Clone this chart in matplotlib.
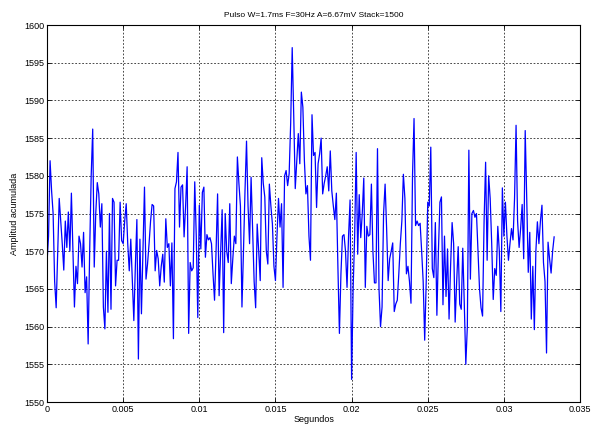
import numpy as np
import matplotlib
matplotlib.use("Agg")
import matplotlib.pyplot as plt

sample_period = 0.0001  # seconds per sample

amplitude = [
    # 0-41
    1568.5, 1572, 1582, 1578, 1575, 1566, 1562.5, 1570, 1577, 1574,
    1571, 1567.5, 1574, 1570.5, 1575.2, 1570, 1577.7, 1570, 1562.6, 1568,
    1565.7, 1572, 1571, 1567.9, 1572.5, 1564.5, 1566.6, 1557.7, 1570, 1580,
    1586.2, 1567.9, 1575, 1579.1, 1577.6, 1573.2, 1576.3, 1562.6, 1559.7, 1570,
    1561.9, 1575,
    # 42-83
    1562.3, 1577, 1576.5, 1565.4, 1568.8, 1568.8, 1576.5, 1571.4, 1571, 1574,
    1576.3, 1571, 1567.4, 1571.6, 1566, 1560.8, 1568, 1574.2, 1555.7, 1571.6,
    1561.7, 1570, 1578.5, 1566.3, 1568.3, 1571, 1574, 1576.2, 1576, 1567.4,
    1570.1, 1569, 1565.4, 1568, 1569.6, 1565.9, 1574.3, 1570.5, 1571, 1565.4,
    1571.1, 1558.4,
    # 84-125
    1578.3, 1579.2, 1583.1, 1573.2, 1578.5, 1578.8, 1571.9, 1576, 1581.2, 1559.1,
    1568.5, 1567.4, 1567.8, 1579.2, 1572, 1561.2, 1576.1, 1570.3, 1577.8, 1578.5,
    1569.2, 1572.2, 1571.5, 1571.8, 1571, 1567, 1563.5, 1570, 1577.6, 1564.1,
    1570, 1575.5, 1559.2, 1575, 1570, 1568.5, 1576.3, 1565.7, 1569, 1572,
    1571, 1582.5,
    # 126-167
    1579, 1576, 1562.6, 1570, 1578, 1584.6, 1576, 1571, 1579.8, 1573,
    1566, 1562.5, 1573.6, 1570, 1566.1, 1582.4, 1579, 1577.2, 1570, 1568.3,
    1578.9, 1576, 1573.6, 1568, 1566.1, 1572, 1577, 1573.2, 1576.3, 1565.2,
    1580, 1580.7, 1578.7, 1580.3, 1587, 1597, 1588, 1578.3, 1582, 1585.6,
    1581.6, 1591.1,
    # 168-209
    1589.1, 1582, 1577.6, 1578.7, 1572, 1568.8, 1588.1, 1582.7, 1583.1, 1575.8,
    1581.6, 1582.9, 1585, 1577.6, 1579, 1580, 1581.2, 1578, 1583.3, 1578,
    1576, 1574.2, 1577.7, 1568, 1559.1, 1567, 1572, 1572.2, 1570, 1565.2,
    1572, 1576.8, 1553.0, 1565, 1572, 1583.1, 1569.6, 1577.5, 1571.8, 1575,
    1579.7, 1565.2,
    # 210-250
    1573.3, 1572, 1572.2, 1578.9, 1570, 1565.8, 1565.8, 1583.6, 1565, 1560,
    1562.6, 1575, 1578.9, 1573, 1566.1, 1569, 1570, 1571.1, 1562, 1563,
    1563.5, 1567, 1571, 1574, 1580.2, 1577, 1567, 1568, 1566, 1563.1,
    1580, 1587.6, 1573.4, 1574, 1573.4, 1573.7, 1570, 1566, 1558.2, 1566,
    1576.5,
    # 251-292
    1576, 1583.8, 1567.7, 1566.5, 1573.8, 1561.5, 1570, 1576.5, 1577.2, 1562.9,
    1572, 1564, 1570.3, 1561, 1568, 1573.8, 1571, 1560.6, 1566, 1570.6,
    1563, 1562.3, 1570.4, 1563, 1555, 1560, 1583.4, 1566.3, 1575, 1575.4,
    1574.5, 1575, 1570, 1565, 1562.5, 1561.4, 1574, 1581.8, 1568.8, 1580,
    1577, 1571,
    # 293-333
    1563.6, 1567.7, 1566.8, 1573.3, 1570, 1562, 1578.4, 1572, 1576.5, 1572,
    1568.8, 1571, 1573, 1571.5, 1577, 1586.7, 1574, 1570.5, 1573, 1576.2,
    1569, 1586, 1577, 1567.2, 1572.5, 1561, 1568, 1559.6, 1570, 1573.9,
    1571, 1574, 1576.1, 1568.5, 1566, 1556.5, 1571.2, 1569, 1567.1, 1570,
    1571.9,
]

x_ticks = [0, 0.005, 0.01, 0.015, 0.02, 0.025, 0.03, 0.035]
x_tick_labels = ["0", "0.005", "0.01", "0.015", "0.02", "0.025", "0.03", "0.035"]
y_ticks = list(range(1550, 1601, 5))

title_text = "Pulso W=1.7ms F=30Hz A=6.67mV Stack=1500"
x_label = "Segundos"
y_label = "Amplitud acumulada"

plt.rcParams["font.family"] = ["Liberation Sans", "DejaVu Sans"]

t = np.arange(len(amplitude)) * sample_period

fig = plt.figure(figsize=(5.96, 4.26), dpi=100)
ax = fig.add_axes([0.0789, 0.0563, 0.8943, 0.885])
ax.plot(t, amplitude, color=(0, 0, 1), linewidth=0.9)

ax.set_xlim(0, 0.035)
ax.set_ylim(1550, 1600)
ax.set_xticks(x_ticks)
ax.set_xticklabels(x_tick_labels)
ax.set_yticks(y_ticks)
ax.tick_params(direction="in", length=3, width=0.6, labelsize=6.5, pad=2,
               top=True, right=True)
ax.grid(True, color="black", linestyle=(0, (2.5, 2.5)), linewidth=0.5)
for s in ax.spines.values():
    s.set_linewidth(0.8)

ax.set_title(title_text, fontsize=6.0, pad=6)
ax.set_xlabel(x_label, fontsize=6.5, labelpad=1)
ax.set_ylabel(y_label, fontsize=6.5, labelpad=4)

fig.savefig("out.png", dpi=100)
